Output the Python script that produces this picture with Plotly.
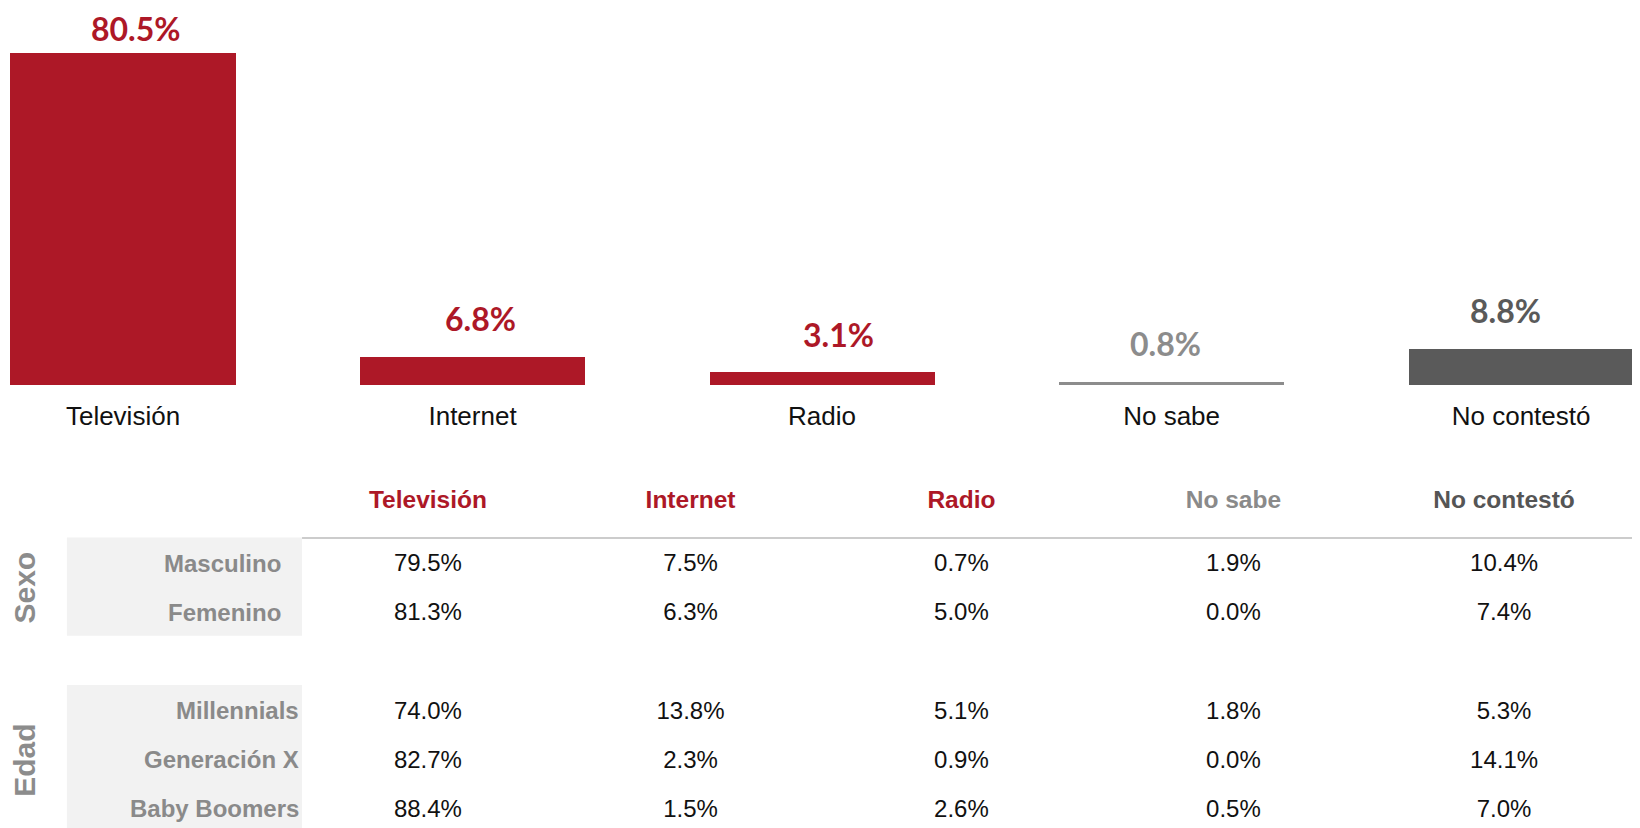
import plotly.graph_objects as go

# --- data ---
medios = ["Televisión", "Internet", "Radio", "No sabe", "No contestó"]
total = [80.5, 6.8, 3.1, 0.8, 8.8]

filas = ["Masculino", "Femenino", "Millennials", "Generación X", "Baby Boomers"]
grupos = ["Sexo", "Sexo", "Edad", "Edad", "Edad"]
tabla = [
    [79.5, 7.5, 0.7, 1.9, 10.4],
    [81.3, 6.3, 5.0, 0.0, 7.4],
    [74.0, 13.8, 5.1, 1.8, 5.3],
    [82.7, 2.3, 0.9, 0.0, 14.1],
    [88.4, 1.5, 2.6, 0.5, 7.0],
]

RED = "#ad1827"
colores_barra = [RED, RED, RED, "#8c8c8c", "#5a5a5a"]
colores_head = [RED, RED, RED, "#8a8a8a", "#555555"]
FONT = "Liberation Sans, Arial, Helvetica, sans-serif"
LABEL_FONT = "Lato, Liberation Sans, sans-serif"

# layout tweaks (pixels / axis units), not data
label_xshift = [13, 8, 16, -6, -16]
col_x = [0, 0.976, 1.983, 2.994, 4.0]
TEXT_DY = 0.04

H = 828
BAR_DOMAIN = [0.5447, 1]
YMAX = 91.4
PX_PER_UNIT = (BAR_DOMAIN[1] - BAR_DOMAIN[0]) * H / YMAX

# table row positions (gap of one row between groups)
fila_y = []
pos = 1
for i, g in enumerate(grupos):
    if i > 0 and g != grupos[i - 1]:
        pos += 1
    fila_y.append(pos)
    pos += 1

fig = go.Figure()

# top bar chart
fig.add_trace(
    go.Bar(
        x=medios,
        y=total,
        marker=dict(color=colores_barra, line=dict(width=0)),
        width=0.644,
        hoverinfo="x+y",
        xaxis="x",
        yaxis="y",
    )
)
for m, v, c, dx in zip(medios, total, colores_barra, label_xshift):
    headroom = (YMAX - v) * PX_PER_UNIT
    fig.add_annotation(
        x=m, y=v, xref="x", yref="y", text=f"<b>{v:.1f}%</b>",
        showarrow=False, yanchor="middle", xshift=dx,
        yshift=min(38, headroom - 20), borderpad=0,
        font=dict(family=LABEL_FONT, size=32, color=c),
    )

# table header
fig.add_trace(
    go.Scatter(
        x=col_x,
        y=[-0.28 + TEXT_DY] * len(medios),
        mode="text",
        text=[f"<b>{m}</b>" for m in medios],
        textfont=dict(family=FONT, size=24.5, color=colores_head),
        hoverinfo="skip",
        xaxis="x2",
        yaxis="y2",
    )
)

# table values
xs, ys, ts = [], [], []
for fy, row in zip(fila_y, tabla):
    for j, v in enumerate(row):
        xs.append(col_x[j])
        ys.append(fy + TEXT_DY)
        ts.append(f"{v:.1f}%")
fig.add_trace(
    go.Scatter(
        x=xs, y=ys, mode="text", text=ts,
        textfont=dict(family=FONT, size=24, color="#111111"),
        hoverinfo="skip", xaxis="x2", yaxis="y2",
    )
)

# grey label boxes, row labels and group labels
for g in dict.fromkeys(grupos):
    ys_g = [y for y, gg in zip(fila_y, grupos) if gg == g]
    fig.add_shape(
        type="rect", xref="x2", yref="y2",
        x0=-1.342, x1=-0.468, y0=min(ys_g) - 0.52, y1=max(ys_g) + 0.48,
        fillcolor="#f2f2f2", line=dict(width=0), layer="below",
    )
    fig.add_annotation(
        x=-1.498, y=sum(ys_g) / len(ys_g), xref="x2", yref="y2",
        text=f"<b>{g}</b>", textangle=-90, showarrow=False,
        font=dict(family=FONT, size=30, color="#8c8c8c"),
    )

for f, fy, g in zip(filas, fila_y, grupos):
    fig.add_annotation(
        x=-0.538 if g == "Sexo" else -0.471, y=fy, xref="x2", yref="y2",
        text=f"<b>{f}</b>", showarrow=False, xanchor="right",
        font=dict(family=FONT, size=24, color="#8a8a8a"),
    )

fig.add_shape(
    type="line", xref="x2", yref="y2",
    x0=-0.468, x1=4.6, y0=0.49, y1=0.49,
    line=dict(color="#bbbbbb", width=1.5),
)

fig.update_layout(
    width=1640,
    height=H,
    margin=dict(l=0, r=0, t=0, b=0),
    paper_bgcolor="white",
    plot_bgcolor="rgba(0,0,0,0)",
    showlegend=False,
    bargap=0,
    xaxis=dict(
        domain=[0, 1], range=[-0.329, 4.363], showgrid=False, zeroline=False,
        showline=False, ticks="", ticklabelstandoff=13,
        tickfont=dict(family=FONT, size=26, color="#111111"),
        anchor="y",
    ),
    yaxis=dict(
        domain=BAR_DOMAIN, range=[0, YMAX], visible=False,
    ),
    xaxis2=dict(
        domain=[0, 1], range=[-1.561, 4.535], visible=False, anchor="y2",
    ),
    yaxis2=dict(
        domain=[0, 0.5], range=[6.549, -1.866], visible=False, anchor="x2",
    ),
)

fig.write_html("out.html")
